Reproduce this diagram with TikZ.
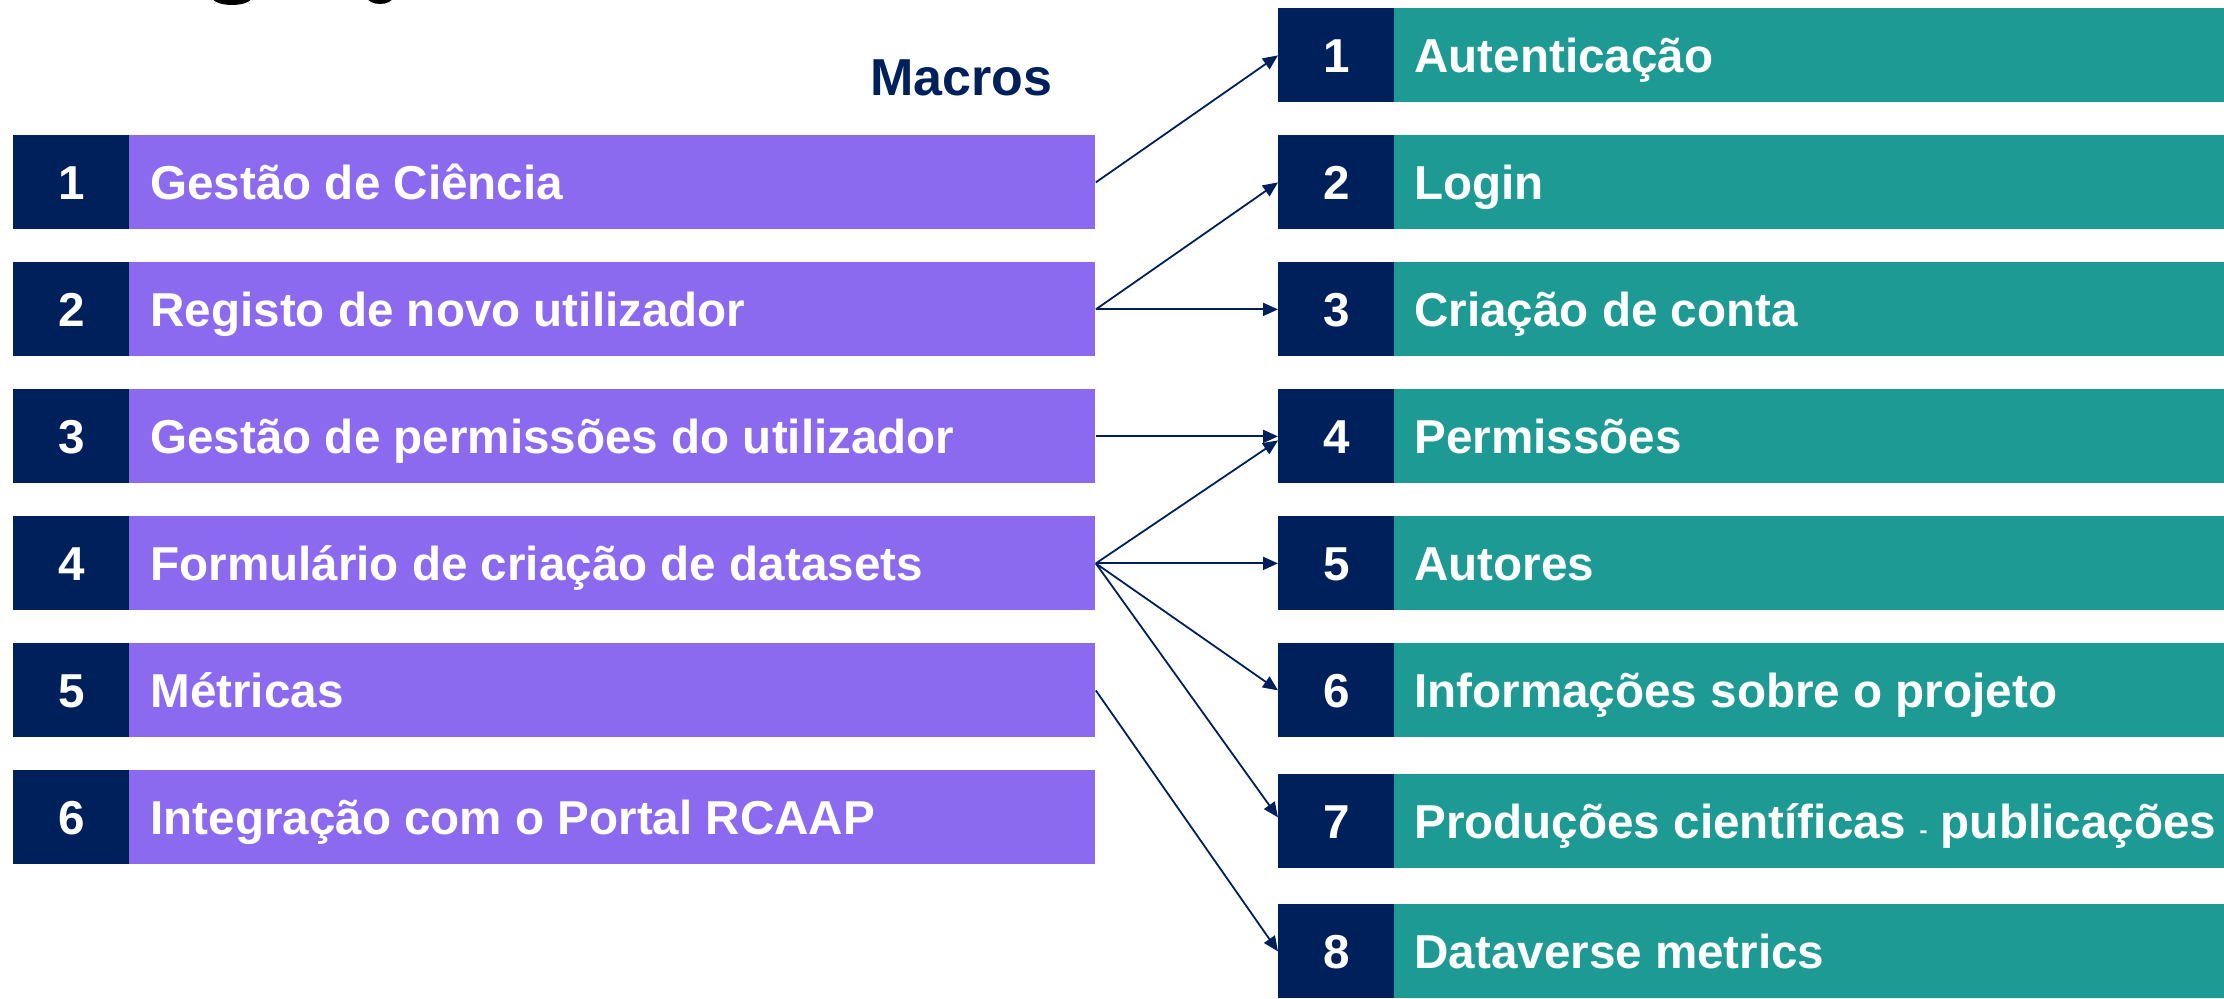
\documentclass[tikz,border=0pt]{standalone}
\usepackage{fontspec}
\setmainfont{Liberation Sans}
\usetikzlibrary{arrows.meta}
\definecolor{navy}{RGB}{0,32,91}
\definecolor{purp}{RGB}{140,106,240}
\definecolor{tealbar}{RGB}{30,154,148}
\tikzset{
  numbox/.style={rectangle, fill=navy, draw=none, minimum width=58pt, minimum height=47pt, inner sep=0pt, anchor=north west},
  lbar/.style={rectangle, fill=purp, draw=none, minimum width=483pt, minimum height=47pt, inner sep=0pt, anchor=north west},
  rbar/.style={rectangle, fill=tealbar, draw=none, minimum width=415pt, minimum height=47pt, inner sep=0pt, anchor=north west},
  numtxt/.style={text=white, font=\bfseries\fontsize{23.8}{28}\selectfont, anchor=base, inner sep=0pt},
  lbl/.style={text=white, font=\bfseries\fontsize{23.8}{28}\selectfont, anchor=base west, inner sep=0pt},
  conn/.style={draw=navy, line width=0.9pt, -{Triangle[length=7.5pt,width=6.5pt]}},
}
\begin{document}
\begin{tikzpicture}[x=0.5pt,y=-0.5pt]
\useasboundingbox (0,0) rectangle (2224,999);
\begin{scope}
  \clip (0,0) rectangle (2224,999);
  \fill[black] (232,-3) ellipse [x radius=10pt, y radius=4pt];
  \fill[black] (380,-3) ellipse [x radius=6.5pt, y radius=3.5pt];
\end{scope}
% title
\node[text=navy, font=\bfseries\fontsize{26}{30}\selectfont, anchor=base east, inner sep=0pt] (macros) at (1053,96) {Macros};
% left column
\foreach \i/\y/\t in {1/135/{Gestão de Ciência},2/262/{Registo de novo utilizador},3/389/{Gestão de permissões do utilizador},4/516/{Formulário de criação de datasets},5/643/{Métricas},6/770/{Integração com o Portal RCAAP}}{
  \node[numbox] (ln\i) at (13,\y) {};
  \node[lbar] (l\i) at (129,\y) {};
  \node[numtxt] (lnt\i) at ([yshift=-8.5pt]ln\i.center) {\i};
  \node[lbl] (lt\i) at ([xshift=10.5pt,yshift=-8.5pt]l\i.west) {\t};
}
% right column
\foreach \i/\y/\t in {1/8/{Autenticação},2/135/{Login},3/262/{Criação de conta},4/389/{Permissões},5/516/{Autores},6/643/{Informações sobre o projeto},7/774/{Produções científicas {\fontsize{12}{14}\selectfont -} publicações},8/904/{Dataverse metrics}}{
  \node[numbox] (rn\i) at (1278,\y) {};
  \node[rbar] (r\i) at (1394,\y) {};
  \node[numtxt] (rnt\i) at ([yshift=-8.5pt]rn\i.center) {\i};
  \node[lbl] (rt\i) at ([xshift=10pt,yshift=-8.5pt]r\i.west) {\t};
}
% connectors
\draw[conn] (l1.east) -- (rn1.west);
\draw[conn] (l2.east) -- (rn2.west);
\draw[conn] (l2.east) -- (rn3.west);
\draw[conn] (l3.east) -- (rn4.west);
\draw[conn] (l4.east) -- ([yshift=-2pt]rn4.west);
\draw[conn] (l4.east) -- (rn5.west);
\draw[conn] (l4.east) -- (rn6.west);
\draw[conn] (l4.east) -- ([yshift=2pt]rn7.west);
\draw[conn] (l5.east) -- (rn8.west);
\end{tikzpicture}
\end{document}
